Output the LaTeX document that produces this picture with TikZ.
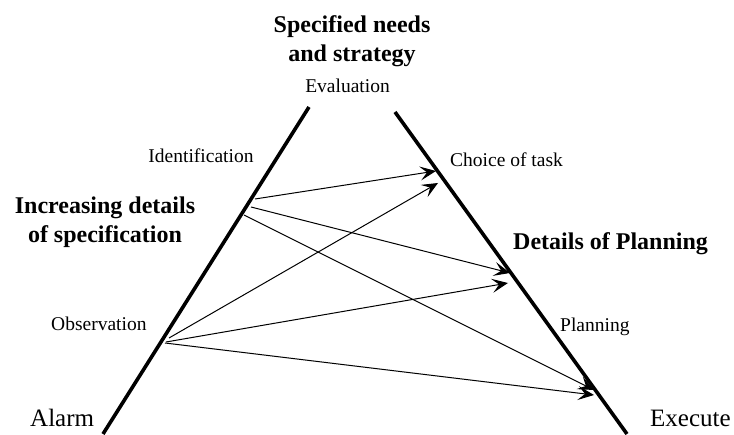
\documentclass[tikz,border=0pt]{standalone}
\usepackage{fontspec}
\setmainfont{Liberation Serif}
\usetikzlibrary{arrows.meta}

\begin{document}
\begin{tikzpicture}[x=1pt, y=1pt,
    side/.style={line width=3.6pt},
    link/.style={line width=1pt, -{Stealth[length=16pt, width=14pt, inset=7pt]}},
    stage/.style={font=\fontsize{19.5}{22}\selectfont, inner sep=0pt},
    heading/.style={font=\fontsize{24}{29}\selectfont\bfseries, align=center, inner sep=0pt},
    corner/.style={font=\fontsize{25}{28}\selectfont, inner sep=0pt}]
    \useasboundingbox (0,0) rectangle (734,434);

    % Sides of the triangle
    \coordinate (ltop) at (309,327);
    \coordinate (lbot) at (103,0);
    \coordinate (rtop) at (395,322);
    \coordinate (rbot) at (627,0);
    \draw[side] (ltop) -- (lbot);
    \draw[side] (rtop) -- (rbot);

    % Headings
    \node[heading] (spec) at (352,393) {Specified needs\\and strategy};
    \node[heading] (incr) at (105,212) {Increasing details\\of specification};
    \node[heading, anchor=base west] (plan) at (513,184) {Details of Planning};

    % Stages
    \node[stage, anchor=base] (eval) at (347.5,341) {Evaluation};
    \node[stage, anchor=base] (ident) at (201,271) {Identification};
    \node[stage, anchor=base west] (choice) at (450,267) {Choice of task};
    \node[stage, anchor=base west] (obs) at (51,103) {Observation};
    \node[stage, anchor=base west] (planning) at (560,102) {Planning};
    \node[corner, anchor=base west] (alarm) at (30,7) {Alarm};
    \node[corner, anchor=base west] (exec) at (650,7) {Execute};

    % Start points on the left side
    \coordinate (id1) at (255,235);
    \coordinate (id2) at (251,227);
    \coordinate (id3) at (244,219);
    \coordinate (ob1) at (169,96);
    \coordinate (ob2) at (166,92);
    \coordinate (ob3) at (165,91);

    % End points on the right side
    \coordinate (ch1) at (436,263);
    \coordinate (ch2) at (438,251);
    \coordinate (pl1) at (510,161);
    \coordinate (pl2) at (508,151);
    \coordinate (ex1) at (594,44);
    \coordinate (ex2) at (594,39);

    % Arrows
    \draw[link] (id1) -- (ch1);
    \draw[link] (id2) -- (pl1);
    \draw[link] (id3) -- (ex1);
    \draw[link] (ob1) -- (ch2);
    \draw[link] (ob2) -- (pl2);
    \draw[link] (ob3) -- (ex2);
\end{tikzpicture}
\end{document}
